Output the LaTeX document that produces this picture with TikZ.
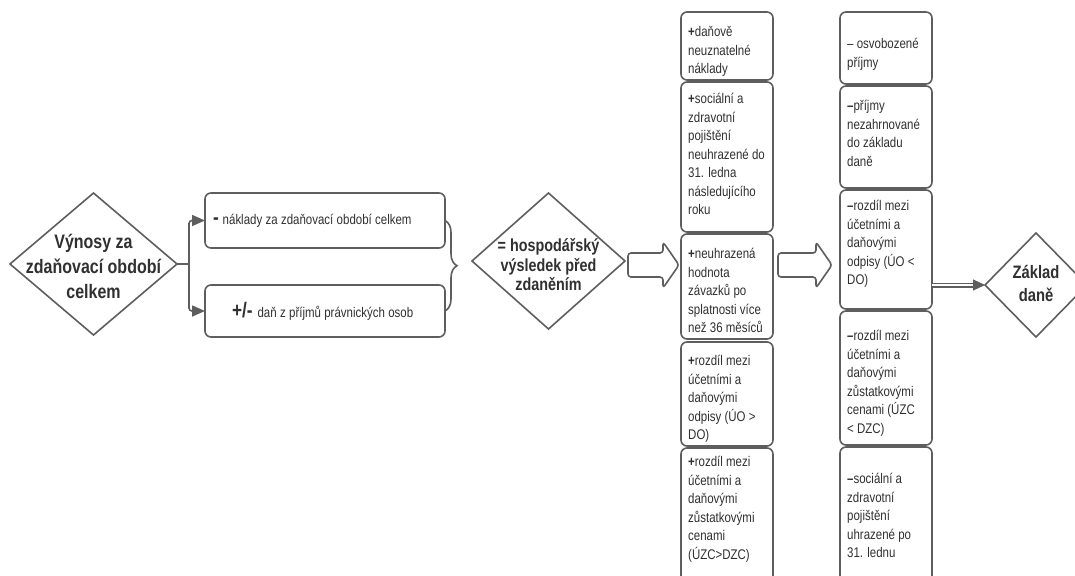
\documentclass[tikz,border=0pt]{standalone}
\usepackage{fontspec}
\setmainfont{Liberation Sans}[FakeStretch=0.82]
\usetikzlibrary{shapes.geometric,arrows.meta,decorations.pathreplacing,calc}
\definecolor{lc}{HTML}{5E5E5E}
\definecolor{tc}{HTML}{303030}
\newcommand\blockarr[2]{\draw[barrow] let \p1=(#1), \p2=(#2) in
  (\x1,\y1+12pt) -- (\x2-16pt,\y1+12pt) -- (\x2-16pt,\y1+23pt) -- (\x2,\y1)
  -- (\x2-16pt,\y1-23pt) -- (\x2-16pt,\y1-12pt) -- (\x1,\y1-12pt) -- cycle;}
\begin{document}
\begin{tikzpicture}[x=1pt,y=-1pt,
  box/.style={draw=lc, line width=1.6pt, rounded corners=6pt, fill=white, inner sep=0pt, outer sep=0pt, text=tc},
  colbox/.style={box, minimum width=92pt, anchor=north west},
  dia/.style={diamond, draw=lc, line width=1.6pt, fill=white, inner sep=0pt, outer sep=0pt},
  dtext/.style={inner sep=0pt, align=center, text=tc},
  ctext/.style={inner sep=0pt, align=left, anchor=north west, text=tc, font=\fontsize{14}{18.5}\selectfont},
  conn/.style={draw=lc, line width=1.6pt},
  tip/.style={-{Triangle[length=13pt,width=11pt]}},
  barrow/.style={draw=lc, line width=1.6pt, fill=white, rounded corners=3pt, line join=round}]
\useasboundingbox (0,0) rectangle (1075,575);
\fill[white] (0,0) rectangle (1075,575);
\clip (0,0) rectangle (1075,575);

% left diamond
\node[dia, minimum width=167pt, minimum height=142pt] (d1) at (93.5,264) {};
\node[dtext, font=\bfseries\fontsize{19.5}{25}\selectfont] (d1t) at (93.5,266) {Výnosy za\\zdaňovací období\\celkem};

% two boxes
\node[box, minimum width=240pt, minimum height=55pt, anchor=north west, text width=224pt, align=left] (b1) at (205,193)
  {{\bfseries\fontsize{21}{21}\selectfont -}\hspace{4pt}\fontsize{14}{16}\selectfont náklady za zdaňovací období celkem};
\node[box, minimum width=240pt, minimum height=52pt, anchor=north west, text width=224pt, align=left] (b2) at (205,285)
  {\hspace*{19pt}{\bfseries\fontsize{21}{21}\selectfont +/-}\hspace{5pt}\fontsize{14}{16}\selectfont daň z příjmů právnických osob};

\coordinate (j) at ([xshift=12pt]d1.east);
\draw[conn] (d1.east) -- (j);
\draw[conn, tip, rounded corners=3pt] (j) |- (b1.west);
\draw[conn, tip, rounded corners=3pt] (j) |- (b2.west);

\draw[conn, decorate, decoration={brace, amplitude=12pt}] (b1.east) -- (b2.east);

% middle diamond
\node[dia, minimum width=153pt, minimum height=136pt] (d2) at (548.5,261) {};
\node[dtext, font=\bfseries\fontsize{17.5}{19.5}\selectfont] (d2t) at (548.5,265) {= hospodářský\\výsledek před\\zdaněním};

% column 1
\node[colbox, minimum height=68pt] (c1a) at (681,12) {};
\node[colbox, minimum height=150pt] (c1b) at (681,82) {};
\node[colbox, minimum height=105pt] (c1c) at (681,234) {};
\node[colbox, minimum height=104pt] (c1d) at (681,342) {};
\node[colbox, minimum height=142pt] (c1e) at (681,448) {};
\node[ctext] at ([shift={(7,11.6)}]c1a.north west) {\strut\textbf{+}daňově\\neuznatelné\\náklady};
\node[ctext] at ([shift={(7,8.6)}]c1b.north west) {\strut\textbf{+}sociální a\\zdravotní\\pojištění\\neuhrazené do\\31. ledna\\následujícího\\roku};
\node[ctext] at ([shift={(7,11.6)}]c1c.north west) {\strut\textbf{+}neuhrazená\\hodnota\\závazků po\\splatnosti více\\než 36 měsíců};
\node[ctext] at ([shift={(7,10.6)}]c1d.north west) {\strut\textbf{+}rozdíl mezi\\účetními a\\daňovými\\odpisy (ÚO >\\DO)};
\node[ctext] at ([shift={(7,5.6)}]c1e.north west) {\strut\textbf{+}rozdíl mezi\\účetními a\\daňovými\\zůstatkovými\\cenami\\(ÚZC>DZC)};

% column 2
\node[colbox, minimum height=72pt] (c2a) at (840,12) {};
\node[colbox, minimum height=102pt] (c2b) at (840,86) {};
\node[colbox, minimum height=119pt] (c2c) at (840,190) {};
\node[colbox, minimum height=134pt] (c2d) at (840,311) {};
\node[colbox, minimum height=143pt] (c2e) at (840,447) {};
\node[ctext] at ([shift={(7,23.6)}]c2a.north west) {\strut– osvobozené\\příjmy};
\node[ctext] at ([shift={(7,11.6)}]c2b.north west) {\strut\textbf{–}příjmy\\nezahrnované\\do základu\\daně};
\node[ctext] at ([shift={(7,7.6)}]c2c.north west) {\strut\textbf{–}rozdíl mezi\\účetními a\\daňovými\\odpisy (ÚO <\\DO)};
\node[ctext] at ([shift={(7,16.6)}]c2d.north west) {\strut\textbf{–}rozdíl mezi\\účetními a\\daňovými\\zůstatkovými\\cenami (ÚZC\\< DZC)};
\node[ctext] at ([shift={(7,23.6)}]c2e.north west) {\strut\textbf{–}sociální a\\zdravotní\\pojištění\\uhrazené po\\31. lednu};

% block arrows
\coordinate (a1s) at (628,265);
\coordinate (a1e) at (679,265);
\coordinate (a2s) at (778,265);
\coordinate (a2e) at (832,265);
\blockarr{a1s}{a1e}
\blockarr{a2s}{a2e}

% right diamond
\node[dia, minimum width=102pt, minimum height=104pt] (d3) at (1036,285) {};
\node[dtext, font=\bfseries\fontsize{18}{23}\selectfont] (d3t) at (1036,283) {Základ\\daně};

% double arrow
\coordinate (ds) at (c2c.east |- d3.west);
\coordinate (dm) at ([xshift=-12pt]d3.west);
\draw[draw=lc, line width=1.3pt, double=white, double distance=2.4pt] (ds) -- ([xshift=1pt]dm);
\draw[conn, line width=1pt, -{Triangle[length=12pt,width=11pt]}] (dm) -- (d3.west);
\end{tikzpicture}
\end{document}
